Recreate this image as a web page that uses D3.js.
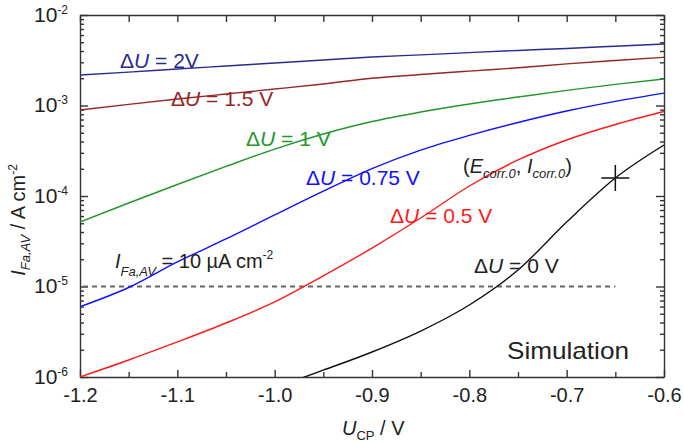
<!DOCTYPE html>
<html>
<head>
<meta charset="utf-8">
<script src="https://cdnjs.cloudflare.com/ajax/libs/d3/7.8.5/d3.min.js"></script>
<style>
  body { margin: 0; background: #fff; }
  svg { display: block; font-family: Arial, "Liberation Sans", sans-serif; }
  .axis path, .axis line { stroke: #333; stroke-width: 1.4; }
</style>
</head>
<body>
<div id="chart"></div>
<script>
// electrode potential grid (V)
const uGrid = [-1.2, -1.15, -1.1, -1.05, -1.0, -0.95, -0.9, -0.85, -0.8, -0.75, -0.7, -0.65, -0.6];
const uZero = [-0.975, -0.95, -0.9, -0.85, -0.8, -0.75, -0.7, -0.65, -0.6];

// current density (A cm^-2) per potential step
const i2V   = [2.17e-3, 2.34e-3, 2.53e-3, 2.73e-3, 2.95e-3, 3.18e-3, 3.43e-3, 3.63e-3, 3.84e-3, 4.06e-3, 4.27e-3, 4.52e-3, 4.79e-3];
const i15V  = [8.91e-4, 1.03e-3, 1.18e-3, 1.34e-3, 1.52e-3, 1.73e-3, 2.00e-3, 2.20e-3, 2.40e-3, 2.61e-3, 2.88e-3, 3.14e-3, 3.41e-3];
const i1V   = [5.16e-5, 8.37e-5, 1.34e-4, 2.12e-4, 3.30e-4, 4.84e-4, 6.65e-4, 8.47e-4, 1.04e-3, 1.24e-3, 1.47e-3, 1.71e-3, 1.96e-3];
const i075V = [5.98e-6, 9.75e-6, 1.87e-5, 3.35e-5, 6.17e-5, 1.13e-4, 2.01e-4, 3.22e-4, 4.67e-4, 6.49e-4, 8.69e-4, 1.11e-3, 1.37e-3];
const i05V  = [1.00e-6, 1.54e-6, 2.44e-6, 3.95e-6, 6.75e-6, 1.31e-5, 2.66e-5, 5.71e-5, 1.29e-4, 2.50e-4, 4.16e-4, 6.17e-4, 8.59e-4];
const i0V   = [9.5e-7, 1.19e-6, 1.89e-6, 3.22e-6, 6.25e-6, 1.52e-5, 5.16e-5, 1.58e-4, 3.66e-4];

const limitI = 1e-5;           // I_Fa,AV = 10 µA cm^-2
const limitU = [-1.2, -0.65];
const corrPoint = [-0.65, 1.58e-4];

const xTicks = [-1.2, -1.1, -1.0, -0.9, -0.8, -0.7, -0.6];
const xMinor = [-1.15, -1.05, -0.95, -0.85, -0.75, -0.65];
const yExp = [-2, -3, -4, -5, -6];

const width = 684, height = 442;
const mLeft = 80, mRight = 664, mTop = 15, mBottom = 377;

const svg = d3.select("#chart").append("svg")
    .attr("width", width)
    .attr("height", height);

const x = d3.scaleLinear().domain([-1.2, -0.6]).range([mLeft, mRight]);
const y = d3.scaleLog().domain([1e-6, 1e-2]).range([mBottom, mTop]);

const yMinor = [];
for (let e = -6; e < -2; e++) {
    for (let k = 2; k <= 9; k++) yMinor.push(k * Math.pow(10, e));
}

svg.append("defs").append("clipPath").attr("id", "plot")
  .append("rect")
    .attr("x", mLeft).attr("y", mTop)
    .attr("width", mRight - mLeft).attr("height", mBottom - mTop);

// axes, ticks inward on all four sides
svg.append("g").attr("class", "axis")
    .attr("transform", "translate(0," + mBottom + ")")
    .call(d3.axisBottom(x).tickValues(xTicks).tickSizeInner(-7).tickSizeOuter(0).tickPadding(11)
        .tickFormat(d => d.toFixed(1)))
    .call(g => g.selectAll("text").attr("font-size", 20).attr("fill", "#222"));
svg.append("g").attr("class", "axis")
    .attr("transform", "translate(0," + mBottom + ")")
    .call(d3.axisBottom(x).tickValues(xMinor).tickSize(-5).tickFormat(""))
    .call(g => g.select(".domain").remove());
svg.append("g").attr("class", "axis")
    .attr("transform", "translate(0," + mTop + ")")
    .call(d3.axisTop(x).tickValues(xTicks.concat(xMinor)).tickSizeInner(-7).tickSizeOuter(0).tickFormat(""));

svg.append("g").attr("class", "axis")
    .attr("transform", "translate(" + mLeft + ",0)")
    .call(d3.axisLeft(y).tickValues(yExp.map(e => Math.pow(10, e))).tickSizeInner(-8).tickSizeOuter(0).tickFormat(""));
svg.append("g").attr("class", "axis")
    .attr("transform", "translate(" + mLeft + ",0)")
    .call(d3.axisLeft(y).tickValues(yMinor).tickSize(-4).tickFormat(""))
    .call(g => g.select(".domain").remove());
svg.append("g").attr("class", "axis")
    .attr("transform", "translate(" + mRight + ",0)")
    .call(d3.axisRight(y).tickValues(yExp.map(e => Math.pow(10, e))).tickSizeInner(-8).tickSizeOuter(0).tickFormat(""));
svg.append("g").attr("class", "axis")
    .attr("transform", "translate(" + mRight + ",0)")
    .call(d3.axisRight(y).tickValues(yMinor).tickSize(-4).tickFormat(""))
    .call(g => g.select(".domain").remove());

// y tick labels 10^n
const yl = svg.append("g").selectAll("text")
    .data(yExp).enter().append("text")
    .attr("x", 34)
    .attr("y", d => y(Math.pow(10, d)) + 6.5)
    .attr("font-size", 21)
    .attr("fill", "#222");
yl.append("tspan").text("10");
yl.append("tspan").attr("font-size", 12).attr("dy", -8).text(d => "-" + (-d));

// axis titles
const xt = svg.append("text").attr("x", 342).attr("y", 435).attr("font-size", 20).attr("fill", "#222");
xt.append("tspan").attr("font-style", "italic").text("U");
xt.append("tspan").attr("font-size", 13).attr("dy", 5).text("CP");
xt.append("tspan").attr("dy", -5).text(" / V");

const yt = svg.append("text")
    .attr("transform", "translate(25,220) rotate(-90)")
    .attr("text-anchor", "middle")
    .attr("font-size", 20).attr("fill", "#222");
yt.append("tspan").attr("font-style", "italic").text("I");
yt.append("tspan").attr("font-style", "italic").attr("font-size", 13).attr("dy", 5).text("Fa,AV");
yt.append("tspan").attr("dy", -5).text("  / A cm");
yt.append("tspan").attr("font-size", 12).attr("dy", -8).text("-2");

// curves
const series = [
    { u: uGrid, i: i2V,   color: "#2a2a8e" },
    { u: uGrid, i: i15V,  color: "#962626" },
    { u: uGrid, i: i1V,   color: "#24962a" },
    { u: uGrid, i: i075V, color: "#1010ff" },
    { u: uGrid, i: i05V,  color: "#ff1a1a" },
    { u: uZero, i: i0V,   color: "#111" }
];

const line = d3.line()
    .x(d => x(d[0]))
    .y(d => y(d[1]))
    .curve(d3.curveMonotoneX);

const plot = svg.append("g").attr("clip-path", "url(#plot)");

plot.append("line")
    .attr("x1", x(limitU[0]) + 3).attr("x2", x(limitU[1]))
    .attr("y1", y(limitI)).attr("y2", y(limitI))
    .attr("stroke", "#666").attr("stroke-width", 1.8)
    .attr("stroke-dasharray", "5,4");

plot.selectAll(".curve")
    .data(series)
    .enter().append("path")
    .attr("class", "curve")
    .attr("fill", "none")
    .attr("stroke", d => d.color)
    .attr("stroke-width", 1.4)
    .attr("d", d => line(d.u.map((u, k) => [u, d.i[k]])));

// corrosion point marker
const cx = x(corrPoint[0]), cy = y(corrPoint[1]);
svg.append("path")
    .attr("d", "M" + (cx - 14) + "," + cy + "H" + (cx + 14) + "M" + cx + "," + (cy - 13) + "V" + (cy + 13))
    .attr("stroke", "#111").attr("stroke-width", 1.5);

// curve labels
function deltaLabel(px, py, rest, color) {
    const t = svg.append("text").attr("x", px).attr("y", py)
        .attr("font-size", 21).attr("fill", color);
    t.append("tspan").text("\u0394");
    t.append("tspan").attr("font-style", "italic").text("U");
    t.append("tspan").text(rest);
}
deltaLabel(120, 68, " = 2V", "#2a2a8e");
deltaLabel(171, 106, " = 1.5 V", "#962626");
deltaLabel(246, 146, " = 1 V", "#24962a");
deltaLabel(306, 185, " = 0.75 V", "#1010ff");
deltaLabel(390, 223, " = 0.5 V", "#ff1a1a");
deltaLabel(474, 273, " = 0 V", "#222");

const ec = svg.append("text").attr("x", 463).attr("y", 173).attr("font-size", 20).attr("fill", "#222");
ec.append("tspan").text("(");
ec.append("tspan").attr("font-style", "italic").text("E");
ec.append("tspan").attr("font-style", "italic").attr("font-size", 13).attr("dy", 5).text("corr.0");
ec.append("tspan").attr("dy", -5).text(", ");
ec.append("tspan").attr("font-style", "italic").text("I");
ec.append("tspan").attr("font-style", "italic").attr("font-size", 13).attr("dy", 5).text("corr.0");
ec.append("tspan").attr("dy", -5).text(")");

const fa = svg.append("text").attr("x", 115).attr("y", 268).attr("font-size", 20).attr("fill", "#222");
fa.append("tspan").attr("font-style", "italic").text("I");
fa.append("tspan").attr("font-style", "italic").attr("font-size", 13).attr("dy", 8).text("Fa,AV");
fa.append("tspan").attr("dy", -8).text(" = 10 \u00b5A cm");
fa.append("tspan").attr("font-size", 12).attr("dy", -9).text("-2");

svg.append("text").attr("x", 507).attr("y", 359)
    .attr("font-size", 24).attr("fill", "#222")
    .attr("textLength", 122).attr("lengthAdjust", "spacingAndGlyphs")
    .text("Simulation");
</script>
</body>
</html>
